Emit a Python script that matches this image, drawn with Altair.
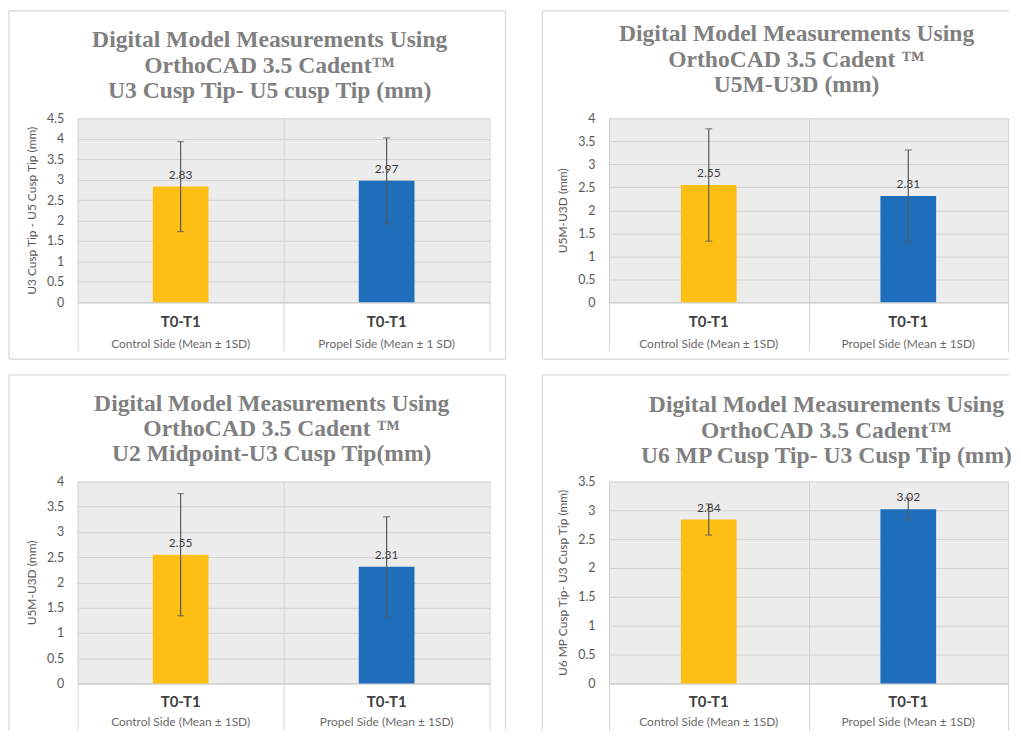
import altair as alt
import pandas as pd
import numpy as np

# ---------------- data ----------------
sides_p1 = ["Control Side (Mean ± 1SD)", "Propel Side (Mean ± 1 SD)"]
sides_std = ["Control Side (Mean ± 1SD)", "Propel Side (Mean ± 1SD)"]
period_label = "T0-T1"

means_p1 = [2.83, 2.97]
sd_p1 = [1.10, 1.05]
means_p2 = [2.55, 2.31]
sd_p2 = [1.22, 1.00]
means_p3 = [2.55, 2.31]
sd_p3 = [1.21, 0.99]
means_p4 = [2.84, 3.02]
sd_p4 = [0.27, 0.19]

y_max = [4.5, 4.0, 4.0, 3.5]
y_step = 0.5

titles = [
    ["Digital Model Measurements Using", "OrthoCAD 3.5 Cadent™", "U3 Cusp Tip- U5 cusp Tip (mm)"],
    ["Digital Model Measurements Using", "OrthoCAD 3.5 Cadent ™", "U5M-U3D (mm)"],
    ["Digital Model Measurements Using", "OrthoCAD 3.5 Cadent ™", "U2 Midpoint-U3 Cusp Tip(mm)"],
    ["Digital Model Measurements Using", "OrthoCAD 3.5 Cadent™", "U6 MP Cusp Tip- U3 Cusp Tip (mm)"],
]
y_titles = [
    "U3 Cusp Tip - U5 Cusp Tip (mm)",
    "U5M-U3D (mm)",
    "U5M-U3D (mm)",
    "U6 MP Cusp Tip- U3 Cusp Tip (mm)",
]

bar_colors = ["#FDBF14", "#1F6EBC"]

FRAME = "#d6d6d6"
SANS = "Lato"


def panel(sides, means, sds, ymax, title, ytitle, w, h, dx, toff,
          fl, ft, fr, fb, tick_len, per_y, sub_y):
    df = pd.DataFrame({"side": sides, "mean": means, "sd": sds, "col": bar_colors,
                       "period": [period_label] * len(sides)})
    df["lo"] = df["mean"] - df["sd"]
    df["hi"] = df["mean"] + df["sd"]
    df["label"] = [f"{v:.2f}" for v in means]

    xenc = alt.X(
        "side:N", sort=sides,
        scale=alt.Scale(paddingInner=0, paddingOuter=0),
        axis=alt.Axis(
            title=None, labels=False, ticks=True, tickBand="extent",
            tickSize=tick_len, tickColor=FRAME, domainColor="#c9c9c9",
            grid=True, gridColor="#d2d2d2",
        ),
    )
    yscale = alt.Scale(domain=[0, ymax], nice=False)
    yaxis = alt.Axis(
        title=ytitle, values=list(np.arange(0, ymax + 0.001, y_step)),
        format="~g", ticks=False, domain=False, labelPadding=14,
        labelFont=SANS, labelFontSize=12.5, labelColor="#595959",
        titleFont=SANS, titleFontSize=12, titleFontWeight="normal",
        titleColor="#595959", titlePadding=8,
        grid=True, gridColor="#d2d2d2",
    )
    base = alt.Chart(df).encode(x=xenc)

    bars = base.mark_bar(size=56).encode(
        y=alt.Y("mean:Q", scale=yscale, axis=yaxis),
        color=alt.Color("col:N", scale=None, legend=None),
    )
    err = base.mark_rule(color="#595959", strokeWidth=1.2).encode(
        y=alt.Y("lo:Q", scale=yscale, axis=yaxis), y2="hi:Q")
    cap_lo = base.mark_tick(color="#595959", size=7, thickness=1.2, orient="horizontal").encode(
        y=alt.Y("lo:Q", scale=yscale, axis=yaxis))
    cap_hi = base.mark_tick(color="#595959", size=7, thickness=1.2, orient="horizontal").encode(
        y=alt.Y("hi:Q", scale=yscale, axis=yaxis))
    labels = base.mark_text(font=SANS, fontSize=12, color="#404040", dy=-12, baseline="middle").encode(
        y=alt.Y("mean:Q", scale=yscale, axis=yaxis), text="label:N")
    per = base.mark_text(font=SANS, fontSize=15, fontWeight="bold", color="#404040",
                         baseline="middle").encode(y=alt.value(h + per_y), text="period:N")
    sub = base.mark_text(font=SANS, fontSize=12, color="#6a6a6a", baseline="middle").encode(
        y=alt.value(h + sub_y), text="side:N")

    one = alt.Data(values=[{"k": 1}])
    bottom = (h + fb) if fb is not None else (h + tick_len)
    right = (w + fr) if fr is not None else (w + 1)
    frame = [
        alt.Chart(one).mark_rule(color=FRAME, strokeWidth=1.2).encode(
            x=alt.value(fl), y=alt.value(ft), y2=alt.value(bottom)),
        alt.Chart(one).mark_rule(color=FRAME, strokeWidth=1.2).encode(
            x=alt.value(fl), x2=alt.value(right), y=alt.value(ft)),
    ]
    if fr is not None:
        frame.append(alt.Chart(one).mark_rule(color=FRAME, strokeWidth=1.2).encode(
            x=alt.value(w + fr), y=alt.value(ft), y2=alt.value(bottom)))
    if fb is not None:
        frame.append(alt.Chart(one).mark_rule(color=FRAME, strokeWidth=1.2).encode(
            x=alt.value(fl), x2=alt.value(right), y=alt.value(h + fb)))

    return alt.layer(bars, err, cap_lo, cap_hi, labels, per, sub, *frame).properties(
        width=w, height=h,
        title=alt.TitleParams(text=title, dx=dx, offset=toff, anchor="middle", frame="group"),
    )


p1 = panel(sides_p1, means_p1, sd_p1, y_max[0], titles[0], y_titles[0],
           414, 185, -14, -93, -69, -108, 16, 57, 49, 20, 42)
p2 = panel(sides_std, means_p2, sd_p2, y_max[1], titles[1], y_titles[1],
           401, 185, -12, -87, -67, -108, None, 57, 49, 20, 42)
p3 = panel(sides_std, means_p3, sd_p3, y_max[2], titles[2], y_titles[2],
           414, 203, -12, -92, -69, -107, 16, None, 47, 19, 39)
p4 = panel(sides_std, means_p4, sd_p4, y_max[3], titles[3], y_titles[3],
           401, 203, 18, -94, -67, -107, None, None, 47, 19, 39)

chart = alt.vconcat(
    alt.hconcat(p1, p2, spacing=35),
    alt.hconcat(p3, p4, spacing=35),
    spacing=14,
).properties(padding=0, background="white").configure_view(
    stroke=None, fill="#ececec"
).configure_title(
    font="Liberation Serif", fontSize=23.7, fontWeight="bold", color="#808080",
    lineHeight=25.5,
)

chart.save("out.html", embed_options={"renderer": "svg", "actions": False})
